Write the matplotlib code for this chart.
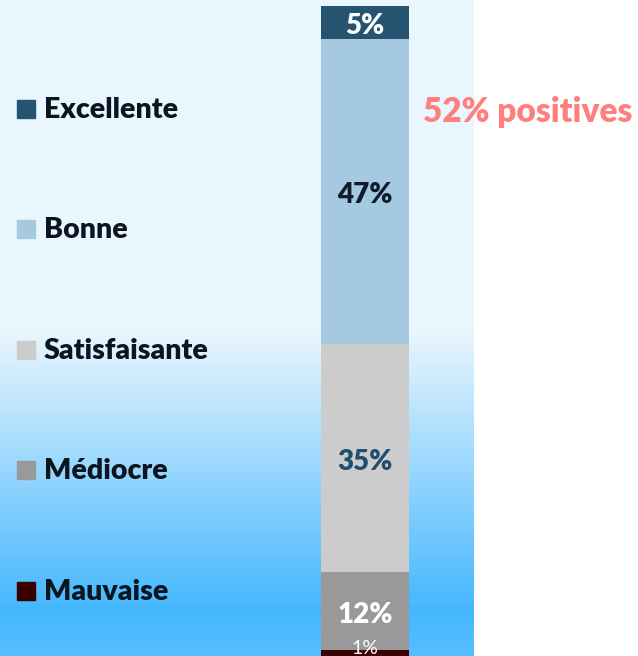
import numpy as np
import matplotlib
matplotlib.use("Agg")
import matplotlib.pyplot as plt
from matplotlib.colors import to_rgb

plt.rcParams['font.family'] = ['Lato', 'DejaVu Sans']

# ---- data ----
categories = ["Mauvaise", "Médiocre", "Satisfaisante", "Bonne", "Excellente"]
values = [1, 12, 35, 47, 5]
value_labels = ["1%", "12%", "35%", "47%", "5%"]
colors = ["#3A0000", "#999999", "#CCCCCC", "#A5C9E1", "#26536F"]
label_colors = ["white", "white", "#1F4E6E", "#0D1B2A", "white"]
annotation = "52% positives"

W, H = 638, 656
fig = plt.figure(figsize=(W / 100, H / 100), dpi=100, facecolor="white")

def fx(px):
    return px / W

def fy(py):
    return 1 - py / H

# ---- gradient background ----
bg = fig.add_axes([0, 0, fx(474), 1])
bg.set_axis_off()
ys = np.arange(H)
c_top = np.array(to_rgb("#EAF6FE"))
c_mid = np.array(to_rgb("#45B7FD"))
c_bot = np.array(to_rgb("#56BFFE"))
grad = np.zeros((H, 1, 3))
for i, y in enumerate(ys):
    if y < 330:
        c = c_top
    elif y < 610:
        t = (y - 330) / 280
        c = c_top + (c_mid - c_top) * t
    else:
        t = (y - 610) / 46
        c = c_mid + (c_bot - c_mid) * t
    grad[i, 0] = c
bg.imshow(grad, aspect="auto", extent=[0, 1, 0, 1], origin="upper")
bg.set_xlim(0, 1)
bg.set_ylim(0, 1)

# ---- stacked bar ----
ax = fig.add_axes([fx(321), 0, fx(409) - fx(321), (H - 6) / H])
ax.set_xlim(-0.5, 0.5)
ax.set_ylim(0, 100)
ax.set_axis_off()
ax.patch.set_alpha(0)

bottom = 0
for cat, v, col, lab, lc in zip(categories, values, colors, value_labels, label_colors):
    ax.bar(0, v, width=1.0, bottom=bottom, color=col, edgecolor="none")
    if v >= 5:
        ax.annotate(lab, xy=(0, bottom + v / 2), xytext=(0, -3),
                    textcoords="offset points", ha="center", va="center",
                    fontsize=20, fontweight="heavy", color=lc)
    else:
        ax.annotate(lab, xy=(0, bottom + v / 2), xytext=(0, -1),
                    textcoords="offset points", ha="center", va="baseline",
                    fontsize=14, color=lc, annotation_clip=False)
    bottom += v

# ---- legend ----
legend_y = {"Excellente": 109, "Bonne": 229, "Satisfaisante": 350,
            "Médiocre": 470, "Mauvaise": 591}
for cat, col in zip(categories, colors):
    cy = legend_y[cat]
    fig.patches.append(plt.Rectangle((fx(17), fy(cy + 9)), fx(18), 18 / H,
                                     transform=fig.transFigure, color=col,
                                     zorder=3))
    fig.text(fx(44), fy(cy + 9), cat, ha="left", va="baseline",
             fontsize=20.5, fontweight="heavy", color="#0A1520")

fig.text(fx(423), fy(122), annotation, ha="left", va="baseline",
         fontsize=24, fontweight="heavy", color="#FF7F7F")

fig.savefig("out.png", dpi=100, facecolor="white")
